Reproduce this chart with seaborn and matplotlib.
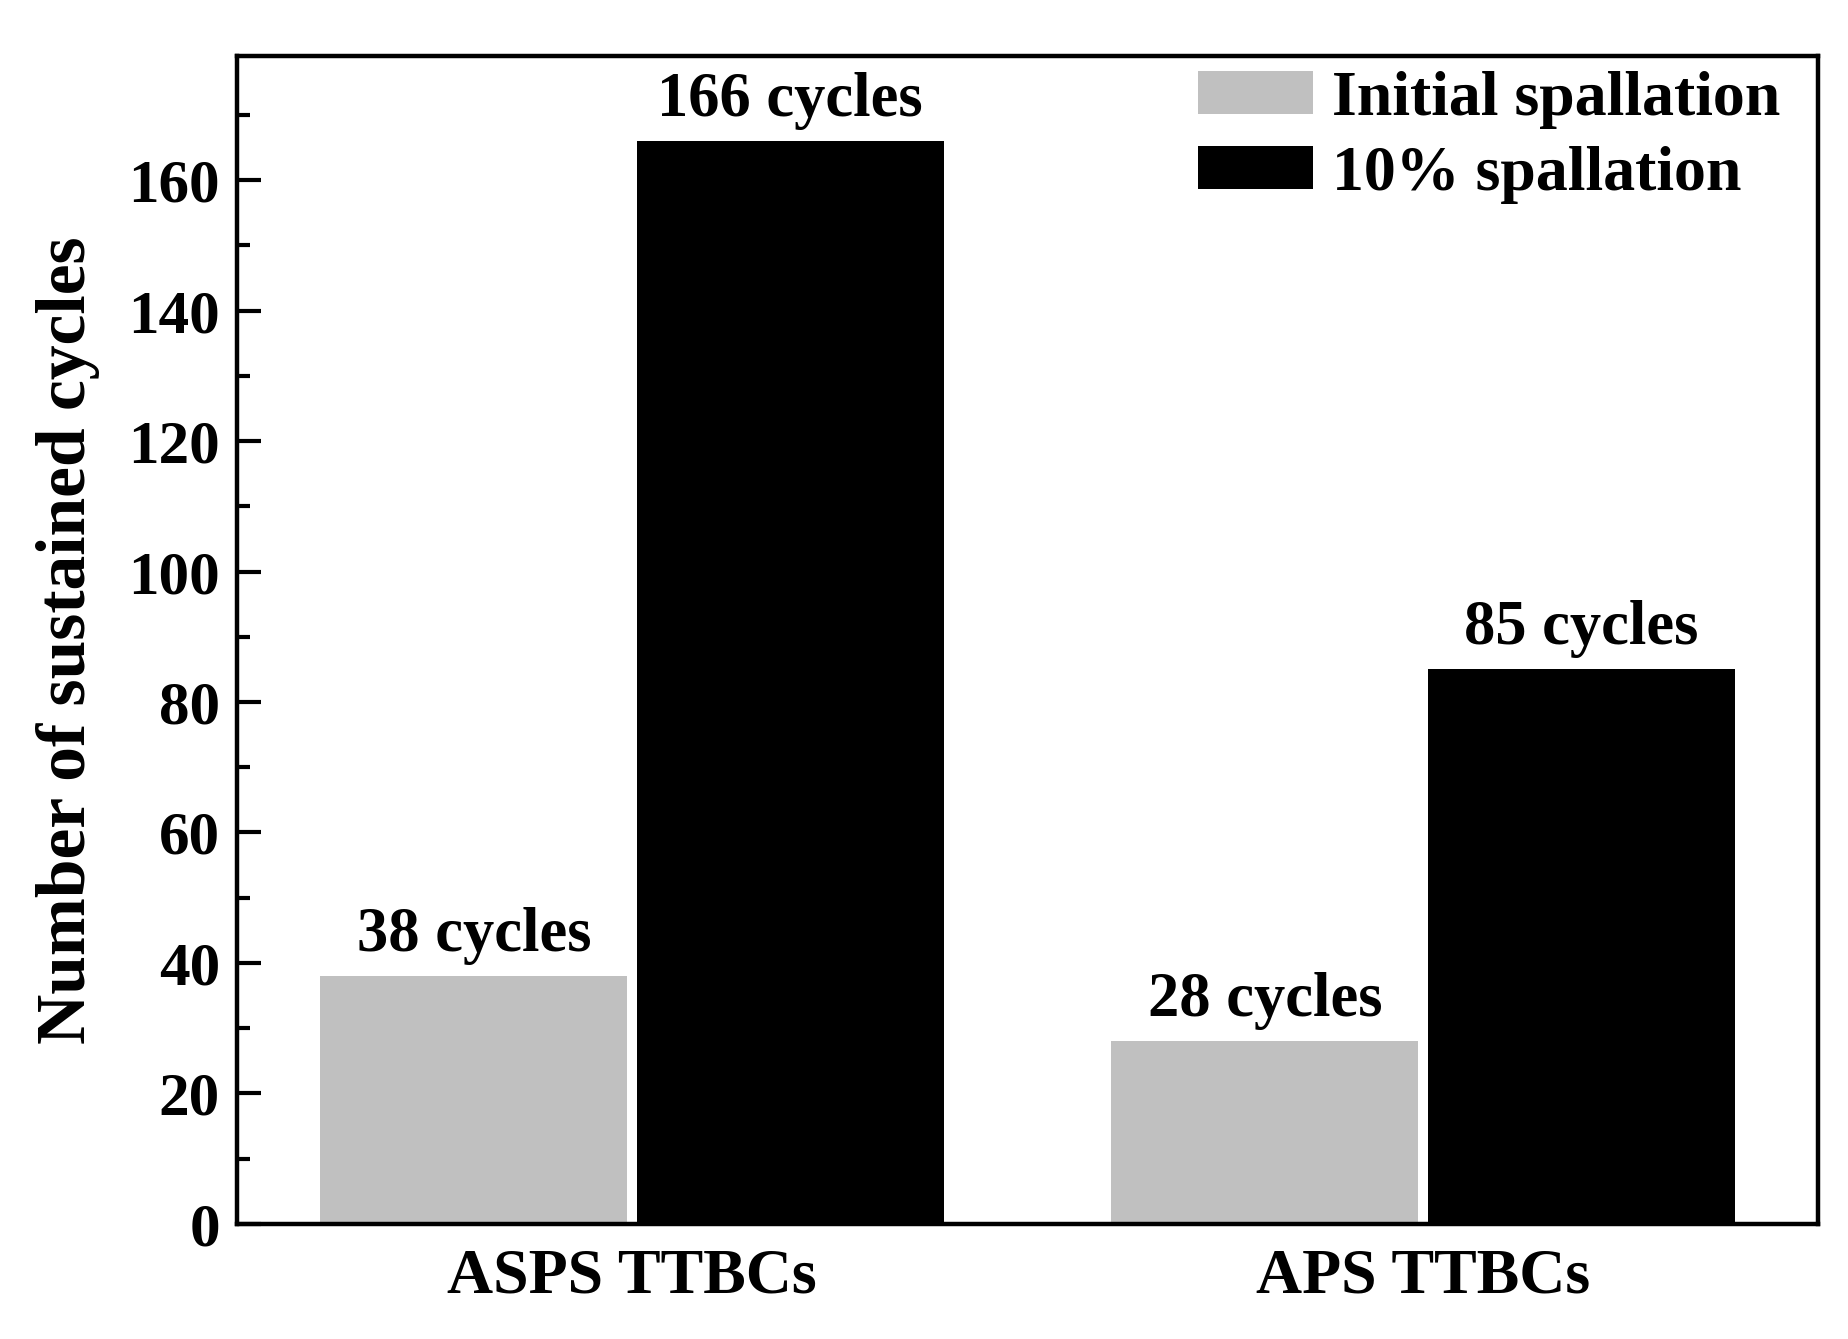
import numpy as np
import pandas as pd
import matplotlib
matplotlib.use("Agg")
import matplotlib.pyplot as plt
from matplotlib.ticker import FixedLocator
import seaborn as sns

# data
coatings = ["ASPS TTBCs", "APS TTBCs"]
stages = ["Initial spallation", "10% spallation"]
initial_cycles = [38, 28]
ten_pct_cycles = [166, 85]
bar_texts = [["38 cycles", "28 cycles"], ["166 cycles", "85 cycles"]]

df = pd.DataFrame({
	"coating": coatings * 2,
	"stage": [stages[0]] * 2 + [stages[1]] * 2,
	"cycles": initial_cycles + ten_pct_cycles,
})

sns.set_style("white")
plt.rcParams["font.family"] = ["Liberation Serif", "DejaVu Serif"]
plt.rcParams["font.weight"] = "bold"
plt.rcParams["text.color"] = "black"
plt.rcParams["axes.labelcolor"] = "black"
plt.rcParams["xtick.color"] = "black"
plt.rcParams["ytick.color"] = "black"

fig = plt.figure(figsize=(9.24, 6.695), dpi=200)
ax = fig.add_axes([0.128, 0.086, 0.856, 0.872])

sns.barplot(data=df, x="coating", y="cycles", hue="stage", order=coatings, hue_order=stages,
			palette={stages[0]: "#c0c0c0", stages[1]: "black"}, width=0.8, gap=0.03,
			saturation=1, linewidth=0, ax=ax)

for cont, texts in zip(ax.containers, bar_texts):
	ax.bar_label(cont, labels=texts, padding=4, fontsize=22.5, fontweight="bold", color="black")

ax.set_xlim(-0.5, 1.5)
ax.set_ylim(0, 179)
ax.yaxis.set_major_locator(FixedLocator(np.arange(0, 161, 20)))
ax.yaxis.set_minor_locator(FixedLocator(np.arange(10, 171, 20)))
ax.tick_params(axis="y", which="major", left=True, direction="in", length=8.5, width=1.5,
			   labelsize=22, pad=6, color="black")
ax.tick_params(axis="y", which="minor", left=True, direction="in", length=4.5, width=1.5, color="black")
ax.tick_params(axis="x", which="both", bottom=False, length=0, labelsize=23, pad=9)
for lab in ax.get_xticklabels() + ax.get_yticklabels():
	lab.set_fontweight("bold")

for sp in ax.spines.values():
	sp.set_visible(True)
	sp.set_linewidth(1.6)
	sp.set_color("black")

ax.set_xlabel("")
ax.set_ylabel("Number of sustained cycles", fontsize=25, fontweight="bold", labelpad=10, color="black")

ax.legend(title=None, loc="upper right", bbox_to_anchor=(1.0, 1.02), frameon=False,
		  handlelength=1.8, handleheight=0.65, handletextpad=0.3, labelspacing=0.26,
		  borderaxespad=0.2, prop={"size": 23, "weight": "bold"})

fig.savefig("out.png", dpi=200)
